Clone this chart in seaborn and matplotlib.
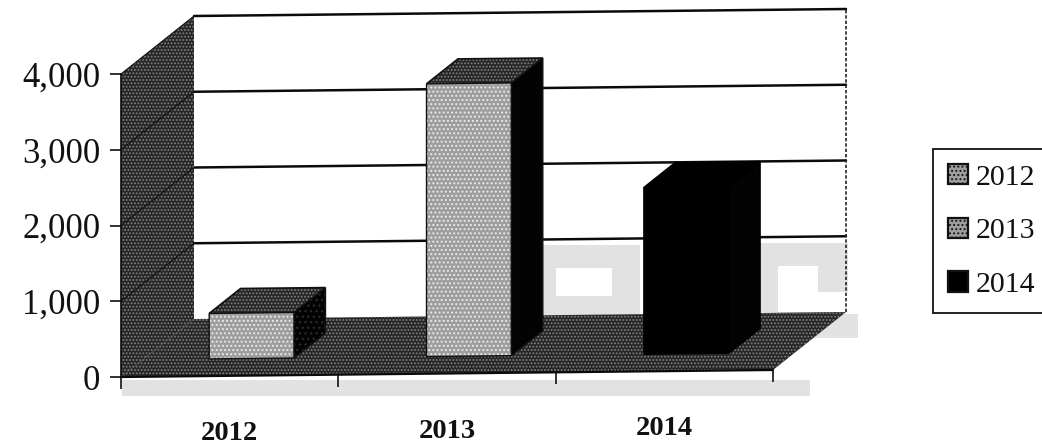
import matplotlib
matplotlib.use("Agg")
import matplotlib.pyplot as plt
from matplotlib.patches import Polygon
from matplotlib.transforms import Affine2D, ScaledTranslation
import numpy as np
import pandas as pd
import seaborn as sns

# Chart values
years = ["2012", "2013", "2014"]
values = [600, 3600, 2200]
y_ticks = [0, 1000, 2000, 3000, 4000]
face_colors = ["#9e9e9e", "#9e9e9e", "#000000"]

sns.set_style("white")
plt.rcParams["font.family"] = ["Liberation Serif", "DejaVu Serif"]
plt.rcParams["hatch.linewidth"] = 0.9

W, H = 1042, 447
DPI = 100
fig = plt.figure(figsize=(W / DPI, H / DPI), dpi=DPI, facecolor="white")

# Front plane of the plot box, in pixels
left, right, bottom, top = 121, 773, 377, 74
ax = fig.add_axes([left / W, 1 - bottom / H, (right - left) / W, (bottom - top) / H])
ax.patch.set_visible(False)

df = pd.DataFrame({"year": years, "value": values})
sns.barplot(data=df, x="year", y="value", hue="year", palette=face_colors,
            width=0.39, dodge=False, saturation=1, legend=True, ax=ax, zorder=20)
ax.set_xlim(-0.5, 2.5)
ax.set_ylim(0, 4000)
ax.set_xlabel("")
ax.set_ylabel("")

# Oblique projection: the baseline climbs slightly and depth runs up and to the right
units_x = 3 / (right - left)
units_y = 4000 / (bottom - top)
slope = 7 / 3 * units_y
depth_x = 73 * units_x
depth_y = 58 * units_y


def projected(depth):
    return (Affine2D.from_values(1, slope, 0, 1, depth * depth_x, 0.5 * slope + depth * depth_y)
            + ax.transData)


flat = projected(0)


def project(x, y, d):
    return (x + d * depth_x, y + slope * (x + 0.5) + d * depth_y)


def face(points, z, fc="#262626", hatch_col="#808080", hatch=".....", outline="#0a0a0a", lw=1.2):
    pts = [project(*p) for p in points]
    if hatch:
        ax.add_patch(Polygon(pts, closed=True, facecolor=fc, edgecolor=hatch_col, hatch=hatch,
                             linewidth=0, zorder=z, clip_on=False))
    else:
        ax.add_patch(Polygon(pts, closed=True, facecolor=fc, edgecolor="none", zorder=z, clip_on=False))
    if outline:
        ax.add_patch(Polygon(pts, closed=True, fill=False, edgecolor=outline, linewidth=lw,
                             zorder=z + 0.1, clip_on=False))


x0, x1 = -0.5, 2.5
ymax = y_ticks[-1]

# Back wall
face([(x0, 0, 1), (x1, 0, 1), (x1, ymax, 1), (x0, ymax, 1)], 1, fc="white", hatch=None, outline=None)

# Show-through tones from the paper, behind the grid and on the margin
tone_boxes = [(122, 380, 810, 396), (540, 245, 640, 268), (540, 268, 556, 315),
              (612, 245, 640, 315), (556, 296, 640, 315), (760, 243, 848, 266),
              (760, 266, 778, 312), (818, 266, 848, 292), (805, 314, 858, 338)]
for bx0, by0, bx1, by1 in tone_boxes:
    ax.add_patch(plt.Rectangle((bx0 / W, 1 - by1 / H), (bx1 - bx0) / W, (by1 - by0) / H,
                               transform=fig.transFigure, facecolor="#e2e2e2",
                               edgecolor="none", zorder=1.5, clip_on=False))

# Gridlines and the dotted right edge of the back wall
grid_x = np.array([x0, x1])
for v in y_ticks[1:]:
    gx, gy = project(grid_x, np.full(2, v), 1)
    ax.plot(gx, gy, color="#0a0a0a", lw=1.8, zorder=2, clip_on=False)
ex, ey = project(np.array([x1, x1]), np.array([0, ymax]), 1)
ax.plot(ex, ey, color="#222222", lw=1.2, ls=(0, (2, 1.2)), zorder=2, clip_on=False)

# Floor and left wall
face([(x0, 0, 0), (x1, 0, 0), (x1, 0, 1), (x0, 0, 1)], 3, outline=None)
face([(x0, 0, 0), (x0, ymax, 0), (x0, ymax, 1), (x0, 0, 1)], 4, outline=None)
for v in y_ticks[1:]:
    gx, gy = project(np.array([x0, x0]), np.full(2, v), np.array([0, 1]))
    ax.plot(gx, gy, color="#111111", lw=0.8, zorder=4.5, clip_on=False)

# Bars: seaborn draws the fronts, sides and tops follow from each bar's own geometry
bar_front = 0.30
bar_depth = 0.43
for patch, col in zip(ax.containers, face_colors):
    for rect in patch:
        bx, bw, bh = rect.get_x(), rect.get_width(), rect.get_height()
        dark = col == "#000000"
        back = bar_front + bar_depth
        base_z = 10 + bx
        edge_col = "#000000" if dark else "#111111"
        # right side
        face([(bx + bw, 0, bar_front), (bx + bw, bh, bar_front), (bx + bw, bh, back), (bx + bw, 0, back)],
             base_z, fc="#030303", hatch=None if bh > 1000 else "...", hatch_col="#2c2c2c", outline=edge_col)
        # top
        face([(bx, bh, bar_front), (bx + bw, bh, bar_front), (bx + bw, bh, back), (bx, bh, back)],
             base_z + 0.2, fc="#000000" if dark else "#262626", hatch=None if dark else ".....",
             outline=edge_col)
        # front
        rect.set_transform(projected(bar_front))
        rect.set_clip_on(False)
        rect.set_zorder(base_z + 0.4)
        rect.set_linewidth(0)
        if not dark:
            rect.set_hatch("....")
            rect.set_edgecolor("#ececec")
        else:
            rect.set_edgecolor("#000000")
        ox, oy = project(np.array([bx, bx + bw, bx + bw, bx]), np.array([0, 0, bh, bh]), bar_front)
        ax.add_patch(Polygon(np.column_stack([ox, oy]), closed=True, fill=False, edgecolor=edge_col,
                             linewidth=1.0, zorder=base_z + 0.5, clip_on=False))

# Sloped baseline and its tick marks
edges = np.arange(4) - 0.5
tick_px = 12 * units_y
ax.plot(edges[[0, -1]], [0, 0], color="#0a0a0a", lw=1.6, transform=flat, zorder=6, clip_on=False)
ax.vlines(edges, -tick_px, 0, color="#111111", lw=1.2, transform=flat, zorder=6, clip_on=False)

# Axes furniture
sns.despine(ax=ax, top=True, right=True, bottom=True, left=False)
ax.spines["left"].set_color("#0a0a0a")
ax.spines["left"].set_linewidth(1.2)
ax.spines["left"].set_zorder(7)
ax.set_yticks(y_ticks, [f"{v:,}" for v in y_ticks])
ax.set_xticks(range(len(years)), years)
ax.tick_params(axis="y", left=True, length=8, width=1.2, color="#111111", labelsize=25,
               labelcolor="#111111", pad=7)
ax.tick_params(axis="x", bottom=False, labelsize=20.5, labelcolor="#111111", pad=29)
for i, lab in enumerate(ax.get_xticklabels()):
    lab.set_fontweight("bold")
    rise = ScaledTranslation(0, (i * 217.33 + 108) * (7 / 652) / DPI, fig.dpi_scale_trans)
    lab.set_transform(lab.get_transform() + rise)

# Legend box runs off the right-hand edge
sns.move_legend(ax, "upper left", bbox_to_anchor=(933 / W, 1 - 149 / H), bbox_transform=fig.transFigure,
                title=None, frameon=True, fontsize=21.5, borderpad=0.5, labelspacing=0.9,
                handlelength=0.68, handleheight=0.68, handletextpad=0.25, borderaxespad=0)
leg = ax.get_legend()
leg.get_frame().set_edgecolor("#111111")
leg.get_frame().set_linewidth(1.3)
leg.get_frame().set_alpha(1)
leg.get_frame().set_boxstyle("square", pad=0)
leg.set_zorder(30)
for handle, col in zip(leg.legend_handles, face_colors):
    handle.set_edgecolor("#111111")
    handle.set_linewidth(1.6)
    handle.set_facecolor(col)
    if col != "#000000":
        handle.set_hatch("....")
for text in leg.get_texts():
    text.set_color("#111111")

fig.savefig("out.png", dpi=DPI, facecolor="white")
